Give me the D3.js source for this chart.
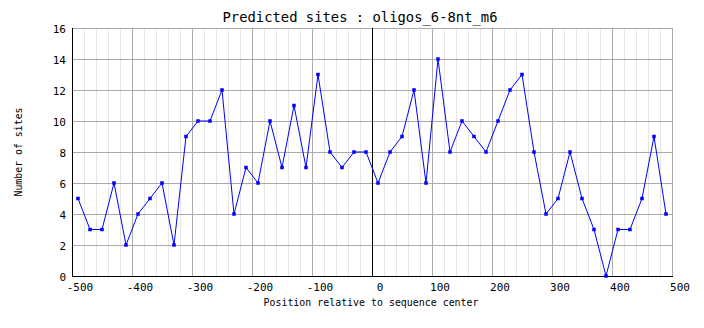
<!DOCTYPE html>
<html>
<head>
<meta charset="utf-8">
<script src="https://cdn.jsdelivr.net/npm/d3@7"></script>
<style>
  body { margin: 0; background: #fff; }
  svg { display: block; }
  text { font-family: "DejaVu Sans Mono", "Liberation Mono", monospace; fill: #000; }
</style>
</head>
<body>
<svg id="chart" width="704" height="328"></svg>
<script>
// ---- data ----
const positions = [-490, -470, -450, -430, -410, -390, -370, -350, -330, -310,
                   -290, -270, -250, -230, -210, -190, -170, -150, -130, -110,
                   -90, -70, -50, -30, -10, 10, 30, 50, 70, 90,
                   110, 130, 150, 170, 190, 210, 230, 250, 270, 290,
                   310, 330, 350, 370, 390, 410, 430, 450, 470, 490];
const sites = [5, 3, 3, 6, 2, 4, 5, 6, 2, 9,
               10, 10, 12, 4, 7, 6, 10, 7, 11, 7,
               13, 8, 7, 8, 8, 6, 8, 9, 12, 6,
               14, 8, 10, 9, 8, 10, 12, 13, 8, 4,
               5, 8, 5, 3, 0, 3, 3, 5, 9, 4];
const xTicks = [-500, -400, -300, -200, -100, 0, 100, 200, 300, 400, 500];
const yTicks = [0, 2, 4, 6, 8, 10, 12, 14, 16];
const titleText = "Predicted sites : oligos_6-8nt_m6";
const xTitle = "Position relative to sequence center";
const yTitle = "Number of sites";

// ---- layout ----
const L = 72, R = 672, T = 28, B = 276;
const svg = d3.select("#chart");
const x = d3.scaleLinear().domain([-500, 500]).range([L, R]);
const y = d3.scaleLinear().domain([0, 16]).range([B, T]);

svg.append("rect").attr("width", 704).attr("height", 328).attr("fill", "#fff");

const g = svg.append("g").attr("shape-rendering", "crispEdges");

// minor vertical grid (every 20)
const minor = x.ticks(50).filter(v => v % 100 !== 0);
g.selectAll(".minor").data(minor).enter().append("line")
  .attr("x1", d => Math.round(x(d)) + 0.5).attr("x2", d => Math.round(x(d)) + 0.5)
  .attr("y1", T).attr("y2", B)
  .attr("stroke", "#e6e6e6").attr("stroke-width", 1);

// major vertical grid
g.selectAll(".vmaj").data(xTicks.filter(v => v !== 0 && v !== -500)).enter().append("line")
  .attr("x1", d => Math.round(x(d)) + 0.5).attr("x2", d => Math.round(x(d)) + 0.5)
  .attr("y1", T).attr("y2", B)
  .attr("stroke", "#aaaaaa").attr("stroke-width", 1);

// major horizontal grid
g.selectAll(".hmaj").data(yTicks.filter(v => v !== 0)).enter().append("line")
  .attr("x1", L).attr("x2", R)
  .attr("y1", d => Math.round(y(d)) + 0.5).attr("y2", d => Math.round(y(d)) + 0.5)
  .attr("stroke", "#aaaaaa").attr("stroke-width", 1);

// black centre line at 0
g.append("line")
  .attr("x1", Math.round(x(0)) + 0.5).attr("x2", Math.round(x(0)) + 0.5)
  .attr("y1", T).attr("y2", B)
  .attr("stroke", "#000").attr("stroke-width", 1);

// axes lines
g.append("line").attr("x1", L + 0.5).attr("x2", L + 0.5).attr("y1", T).attr("y2", B + 0.5)
  .attr("stroke", "#000");
g.append("line").attr("x1", L).attr("x2", R + 0.5).attr("y1", B + 0.5).attr("y2", B + 0.5)
  .attr("stroke", "#000");

// data line
const line = d3.line().x((d, i) => x(positions[i])).y(d => y(d));
svg.append("path").datum(sites)
  .attr("d", line)
  .attr("fill", "none").attr("stroke", "#0000ff").attr("stroke-width", 1);

// markers
svg.selectAll(".pt").data(sites).enter().append("rect")
  .attr("x", (d, i) => x(positions[i]) - 1.75)
  .attr("y", d => y(d) - 1.75)
  .attr("width", 3.5).attr("height", 3.5)
  .attr("fill", "#0000ff");

// x tick labels
svg.selectAll(".xl").data(xTicks).enter().append("text")
  .attr("x", d => x(d) + 8).attr("y", 291)
  .attr("text-anchor", "middle").attr("font-size", "11px")
  .text(d => d);

// y tick labels
svg.selectAll(".yl").data(yTicks).enter().append("text")
  .attr("x", 66).attr("y", d => y(d) + 4.5)
  .attr("text-anchor", "end").attr("font-size", "11px")
  .text(d => d);

// titles
svg.append("text").attr("x", 360).attr("y", 22)
  .attr("text-anchor", "middle").attr("font-size", "14px")
  .attr("textLength", 275).attr("lengthAdjust", "spacingAndGlyphs")
  .text(titleText);
svg.append("text").attr("x", 371).attr("y", 306)
  .attr("text-anchor", "middle").attr("font-size", "11px")
  .attr("textLength", 215).attr("lengthAdjust", "spacingAndGlyphs")
  .text(xTitle);
svg.append("text")
  .attr("transform", "translate(22,152) rotate(-90)")
  .attr("text-anchor", "middle").attr("font-size", "11px")
  .attr("textLength", 89).attr("lengthAdjust", "spacingAndGlyphs")
  .text(yTitle);
</script>
</body>
</html>
